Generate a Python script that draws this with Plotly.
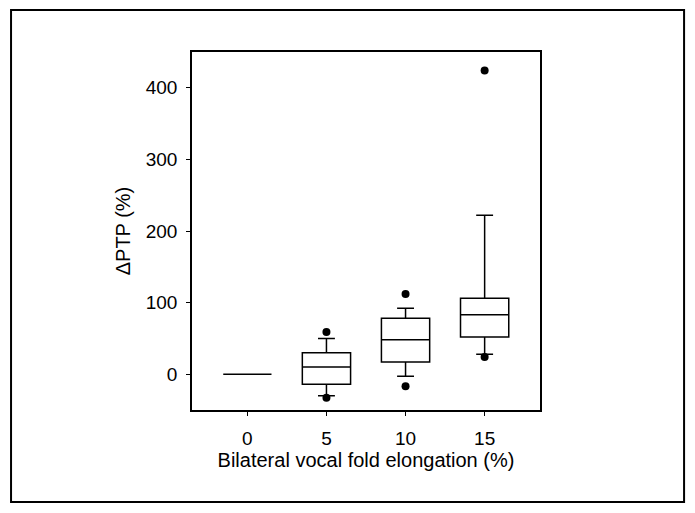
#!/usr/bin/env python3
# -*- coding:utf-8 -*-

import plotly.graph_objects as go


# x categories: bilateral vocal fold elongation (%)
ELONGATION = ['0', '5', '10', '15']

# box statistics for dPTP (%)
Q1          = [0, -14, 17, 52]
MEDIAN      = [0, 10, 48, 83]
Q3          = [0, 30, 78, 106]
LOWER_WHISK = [0, -30, -3, 28]
UPPER_WHISK = [0, 50, 92, 222]

# points outside the whiskers
OUTLIER_X   = ['5', '5', '10', '10', '15', '15']
OUTLIER_Y   = [59, -33, 112, -17, 424, 24]

Y_TICKS     = [0, 100, 200, 300, 400]


FONT = 'Arial, "Liberation Sans", sans-serif'

# the page body adds an 8px margin, so the figure is 8px smaller than the window
FIG_W = 687
FIG_H = 505


def BuildFigure() -> go.Figure:
	fig = go.Figure()

	# boxes from precomputed stats
	fig.add_trace(
		go.Box(
			x=ELONGATION,
			q1=Q1,
			median=MEDIAN,
			q3=Q3,
			lowerfence=LOWER_WHISK,
			upperfence=UPPER_WHISK,
			width=0.61,
			whiskerwidth=0.35,
			fillcolor='white',
			line=dict(color='black', width=1.5),
			boxpoints=False,
			showlegend=False,
			hoverinfo='skip',
		)
	)

	# outliers
	fig.add_trace(
		go.Scatter(
			x=OUTLIER_X,
			y=OUTLIER_Y,
			mode='markers',
			marker=dict(color='black', size=8, symbol='circle'),
			showlegend=False,
		)
	)

	axisStyle = dict(
		showline=True,
		linecolor='black',
		linewidth=1.5,
		mirror=True,
		showgrid=False,
		zeroline=False,
		ticks='outside',
		ticklen=4,
		tickwidth=1,
		tickcolor='black',
		tickfont=dict(family=FONT, size=19, color='black'),
	)

	fig.update_xaxes(
		type='category',
		categoryorder='array',
		categoryarray=ELONGATION,
		range=[-0.7, 3.7],
		ticklabelstandoff=6,
		title=dict(
			text='Bilateral vocal fold elongation (%)',
			font=dict(family=FONT, size=20, color='black'),
			standoff=2,
		),
		**axisStyle,
	)
	fig.update_yaxes(
		range=[-50, 450],
		tickvals=Y_TICKS,
		ticklabelstandoff=5,
		title=dict(
			text='\u0394PTP (%)',
			font=dict(family=FONT, size=20, color='black'),
			standoff=10,
		),
		**axisStyle,
	)

	# outer frame around the whole figure
	fig.add_shape(
		type='rect',
		xref='paper', yref='paper',
		x0=-0.520, x1=1.414,
		y0=-0.257, y1=1.117,
		line=dict(color='black', width=2),
		fillcolor='rgba(0,0,0,0)',
		layer='below',
	)

	fig.update_layout(
		width=FIG_W,
		height=FIG_H,
		margin=dict(l=184, r=155, t=44, b=103, autoexpand=False),
		plot_bgcolor='white',
		paper_bgcolor='white',
		font=dict(family=FONT, color='black'),
	)

	return fig


def main() -> None:
	fig = BuildFigure()
	fig.write_html('out.html')


if __name__ == '__main__':
	main()
